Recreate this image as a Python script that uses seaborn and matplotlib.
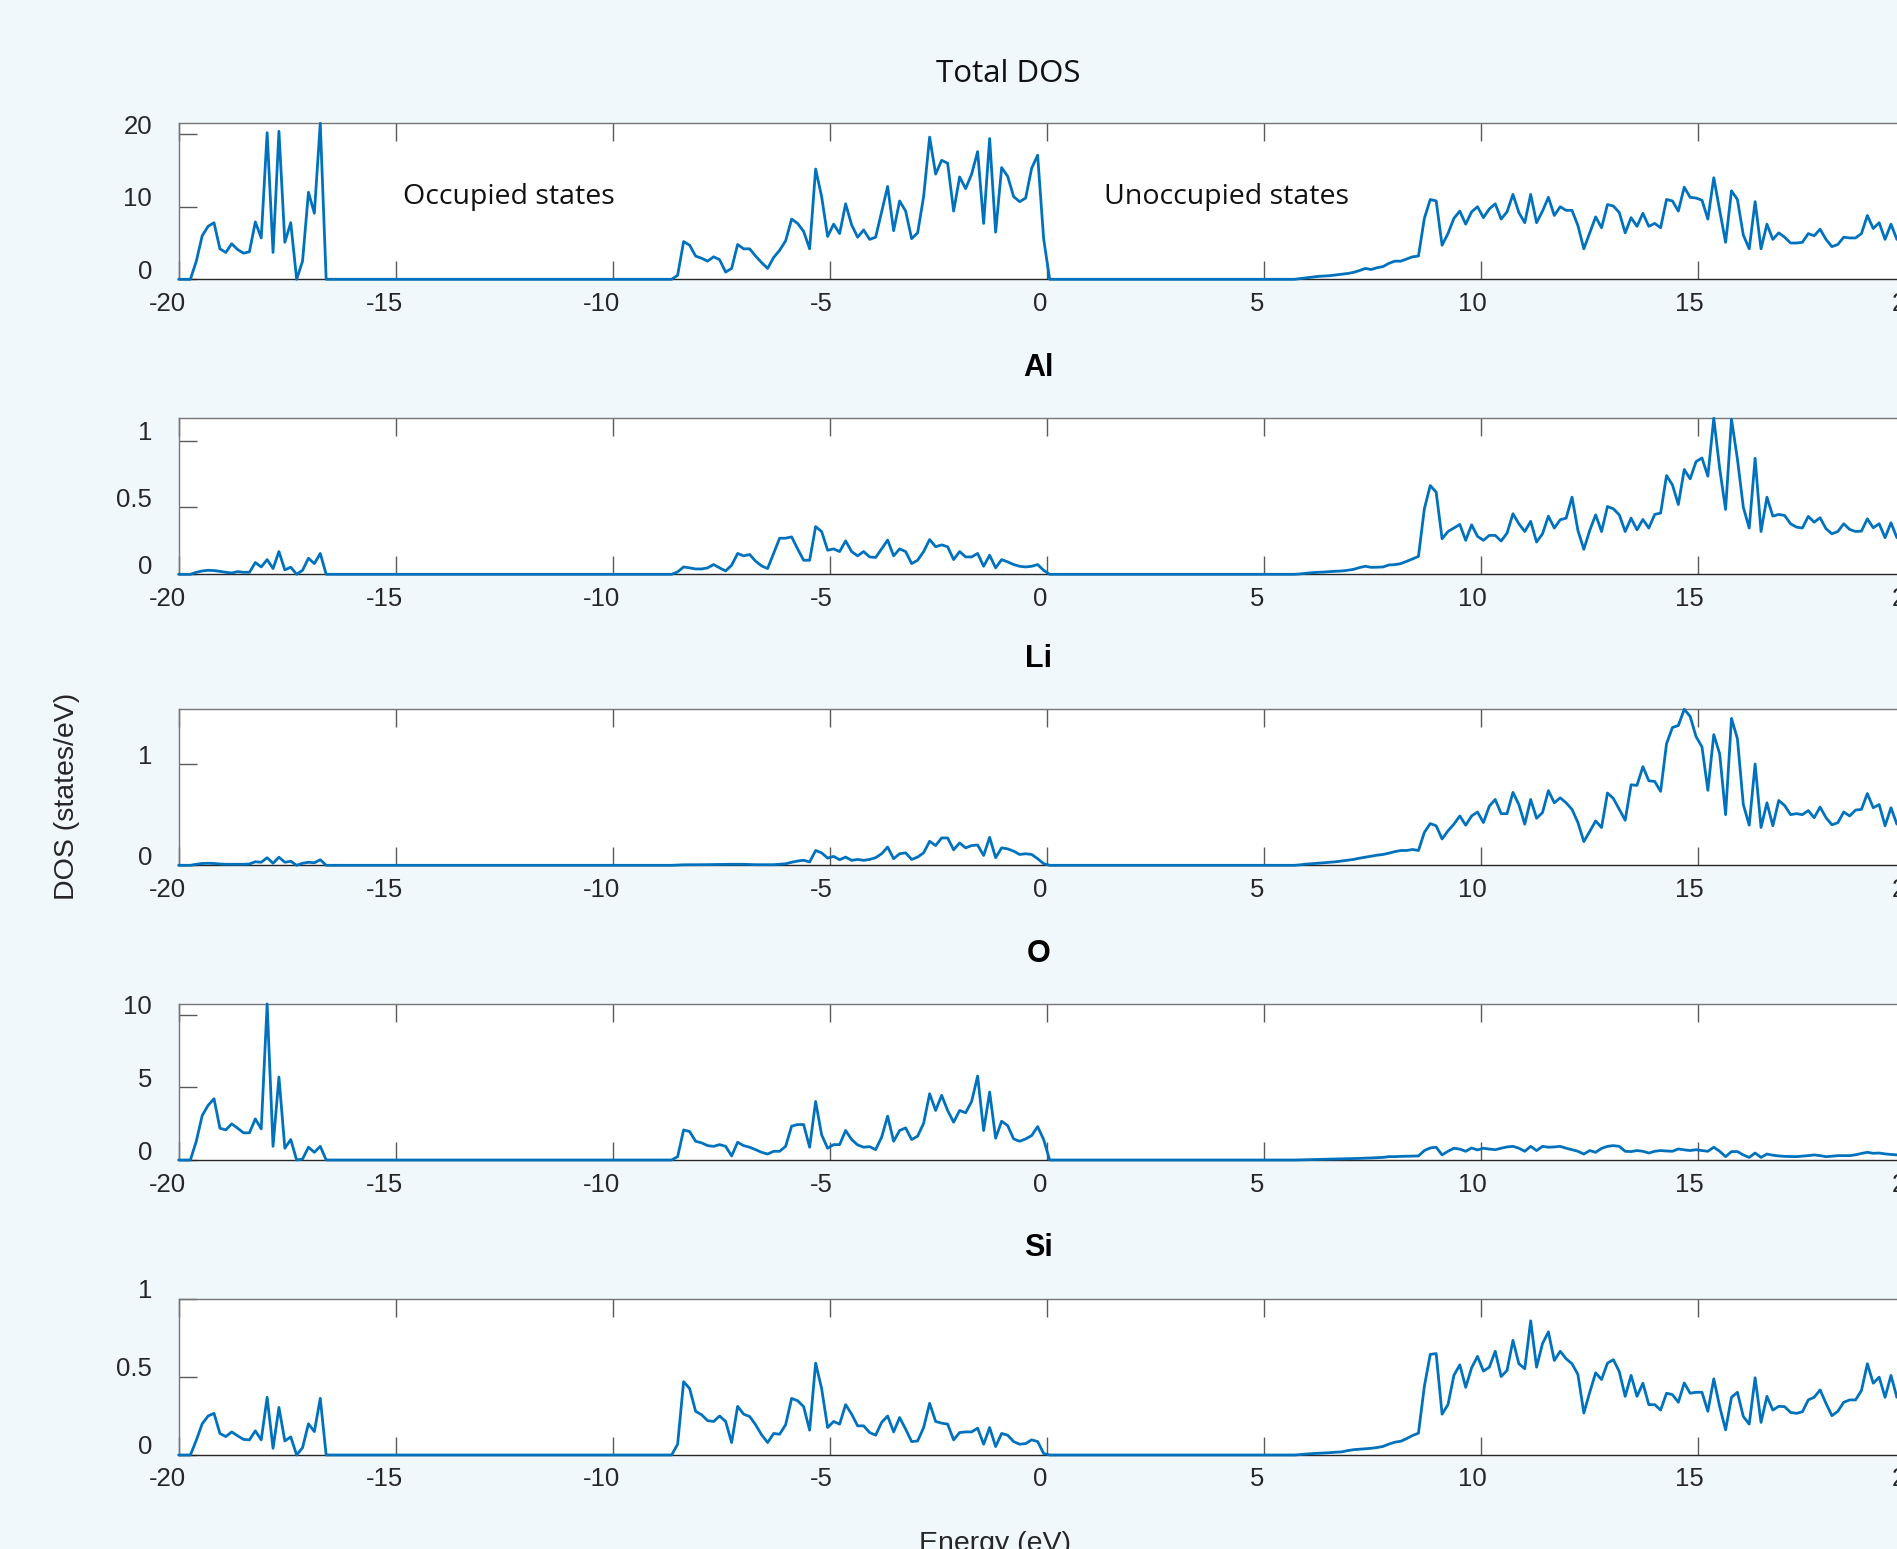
import numpy as np
import pandas as pd
import seaborn as sns
import matplotlib.pyplot as plt
from matplotlib import transforms

# ---- values (DOS in states/eV) ----
# every series is sampled in three energy windows; between them the DOS is zero
lo_window = (-20.0, -16.6)   # lower valence band
vb_window = (-8.64, 0.07)    # upper valence band
cb_window = (5.71, 20.0)     # conduction band

total_lo = [0, 0, 0, 2.5, 6.0, 7.3, 7.8, 4.2, 3.7, 4.9, 4.1, 3.6, 3.8, 7.9, 5.7, 20.2,
            3.7, 20.4, 5.1, 7.8, 0, 2.5, 12.0, 9.1, 21.5, 0]
total_vb = [0, 0.55, 5.2, 4.7, 3.2, 2.9, 2.5, 3.1, 2.7, 1.0,
            1.5, 4.8, 4.2, 4.2, 3.2, 2.3, 1.5, 3.0, 4.0, 5.3,
            8.3, 7.7, 6.6, 4.2, 15.2, 11.4, 5.9, 7.6, 6.3, 10.4,
            7.5, 5.8, 6.8, 5.5, 5.8, 9.3, 12.8, 6.7, 10.8, 9.4,
            5.6, 6.4, 11.4, 19.6, 14.5, 16.4, 16.0, 9.4, 14.1, 12.5,
            14.5, 17.6, 7.7, 19.4, 6.5, 15.4, 14.2, 11.4, 10.7, 11.2,
            15.3, 17.1, 5.6, 0]
total_cb = [0, 0.1, 0.2, 0.3, 0.4, 0.45, 0.5, 0.6, 0.7, 0.8,
            0.95, 1.2, 1.5, 1.35, 1.6, 1.75, 2.2, 2.5, 2.5, 2.8,
            3.1, 3.2, 8.4, 11.0, 10.8, 4.7, 6.3, 8.4, 9.4, 7.6,
            9.3, 10.0, 8.5, 9.7, 10.4, 8.3, 9.3, 11.7, 9.2, 7.8,
            11.7, 7.8, 9.4, 11.3, 8.8, 10.0, 9.5, 9.5, 7.4, 4.2,
            6.4, 8.6, 7.1, 10.3, 10.1, 9.2, 6.4, 8.5, 7.3, 9.1,
            7.3, 7.7, 7.1, 11.0, 10.8, 9.4, 12.7, 11.3, 11.2, 10.9,
            8.3, 14.0, 9.5, 5.1, 12.2, 11.0, 6.1, 4.2, 10.7, 4.2,
            7.6, 5.5, 6.4, 5.8, 5.0, 5.0, 5.1, 6.3, 6.0, 6.9,
            5.5, 4.5, 4.8, 5.8, 5.7, 5.7, 6.3, 8.8, 7.0, 7.8,
            5.5, 7.6, 5.5, 6.2, 5.8, 6.5]

al_lo = [0, 0, 0, 0.015, 0.025, 0.03, 0.028, 0.022, 0.015, 0.01, 0.02, 0.015, 0.015,
         0.088, 0.055, 0.11, 0.043, 0.17, 0.033, 0.053, 0, 0.03, 0.12, 0.08, 0.156, 0]
al_vb = [0, 0.018, 0.055, 0.048, 0.04, 0.04, 0.048, 0.073, 0.048, 0.025,
         0.068, 0.156, 0.138, 0.148, 0.098, 0.063, 0.043, 0.156, 0.27, 0.27,
         0.28, 0.19, 0.105, 0.105, 0.357, 0.32, 0.18, 0.19, 0.17, 0.25,
         0.17, 0.138, 0.17, 0.13, 0.126, 0.19, 0.256, 0.138, 0.19, 0.17,
         0.08, 0.105, 0.17, 0.26, 0.206, 0.22, 0.206, 0.11, 0.17, 0.13,
         0.13, 0.156, 0.06, 0.143, 0.048, 0.11, 0.093, 0.073, 0.06, 0.055,
         0.06, 0.073, 0.03, 0]
al_cb = [0, 0.003, 0.008, 0.012, 0.015, 0.017, 0.02, 0.023, 0.025, 0.03,
         0.037, 0.05, 0.06, 0.052, 0.053, 0.055, 0.07, 0.072, 0.08, 0.097,
         0.115, 0.134, 0.49, 0.664, 0.614, 0.266, 0.32, 0.346, 0.373, 0.254,
         0.37, 0.284, 0.254, 0.291, 0.291, 0.249, 0.308, 0.453, 0.378, 0.32,
         0.396, 0.241, 0.303, 0.435, 0.346, 0.408, 0.42, 0.577, 0.328, 0.187,
         0.328, 0.445, 0.32, 0.507, 0.49, 0.445, 0.32, 0.42, 0.333, 0.41,
         0.346, 0.448, 0.458, 0.739, 0.669, 0.522, 0.784, 0.714, 0.843, 0.87,
         0.734, 1.167, 0.79, 0.485, 1.16, 0.863, 0.502, 0.346, 0.868, 0.32,
         0.577, 0.435, 0.448, 0.44, 0.378, 0.353, 0.346, 0.433, 0.39, 0.423,
         0.341, 0.303, 0.32, 0.378, 0.336, 0.32, 0.323, 0.415, 0.348, 0.378,
         0.274, 0.386, 0.274, 0.35, 0.3, 0.33]

li_lo = [0, 0, 0, 0.01, 0.018, 0.02, 0.018, 0.013, 0.01, 0.01, 0.01, 0.01, 0.013,
         0.035, 0.03, 0.075, 0.02, 0.08, 0.03, 0.04, 0, 0.02, 0.03, 0.025, 0.055, 0]
li_vb = [0, 0.003, 0.005, 0.005, 0.006, 0.006, 0.007, 0.008, 0.008, 0.009,
         0.01, 0.01, 0.01, 0.008, 0.006, 0.006, 0.005, 0.006, 0.01, 0.015,
         0.03, 0.042, 0.05, 0.033, 0.146, 0.123, 0.071, 0.088, 0.055, 0.081,
         0.049, 0.058, 0.049, 0.058, 0.075, 0.114, 0.18, 0.065, 0.114, 0.123,
         0.058, 0.081, 0.123, 0.237, 0.195, 0.27, 0.27, 0.153, 0.221, 0.172,
         0.195, 0.2, 0.097, 0.276, 0.075, 0.172, 0.162, 0.14, 0.107, 0.114,
         0.107, 0.065, 0.016, 0]
li_cb = [0, 0.005, 0.012, 0.016, 0.02, 0.025, 0.03, 0.035, 0.042, 0.05,
         0.058, 0.07, 0.08, 0.09, 0.1, 0.107, 0.12, 0.135, 0.146, 0.146,
         0.156, 0.146, 0.325, 0.412, 0.39, 0.26, 0.34, 0.406, 0.487, 0.396,
         0.487, 0.526, 0.422, 0.584, 0.65, 0.51, 0.51, 0.72, 0.6, 0.406,
         0.65, 0.464, 0.52, 0.737, 0.617, 0.666, 0.617, 0.552, 0.422, 0.234,
         0.334, 0.438, 0.373, 0.714, 0.66, 0.552, 0.445, 0.795, 0.789, 0.974,
         0.834, 0.828, 0.73, 1.2, 1.36, 1.38, 1.54, 1.47, 1.27, 1.17,
         0.74, 1.29, 1.1, 0.5, 1.45, 1.25, 0.6, 0.396, 1.0, 0.373,
         0.617, 0.39, 0.64, 0.59, 0.5, 0.51, 0.5, 0.54, 0.47, 0.575,
         0.47, 0.4, 0.42, 0.526, 0.487, 0.545, 0.552, 0.708, 0.568, 0.6,
         0.39, 0.568, 0.406, 0.5, 0.45, 0.5]

o_lo = [0, 0, 0, 1.3, 3.06, 3.76, 4.22, 2.19, 2.07, 2.49, 2.19, 1.87, 1.87,
        2.83, 2.14, 10.74, 0.94, 5.71, 0.81, 1.41, 0, 0.07, 0.88, 0.53, 0.94, 0]
o_vb = [0, 0.23, 2.07, 1.96, 1.29, 1.18, 0.99, 0.94, 1.06, 0.94,
        0.28, 1.22, 0.99, 0.88, 0.71, 0.53, 0.41, 0.6, 0.6, 0.94,
        2.33, 2.44, 2.44, 0.88, 4.03, 1.73, 0.81, 1.06, 1.06, 2.03,
        1.41, 1.04, 0.88, 0.92, 0.71, 1.57, 3.02, 1.29, 2.03, 2.21,
        1.41, 1.64, 2.53, 4.56, 3.41, 4.45, 3.41, 2.6, 3.41, 3.25,
        4.03, 5.78, 2.03, 4.68, 1.5, 2.67, 2.37, 1.45, 1.29, 1.45,
        1.68, 2.3, 1.41, 0]
o_cb = [0, 0.01, 0.02, 0.03, 0.04, 0.05, 0.06, 0.07, 0.08, 0.09,
        0.1, 0.11, 0.13, 0.14, 0.16, 0.18, 0.23, 0.23, 0.25, 0.26,
        0.27, 0.28, 0.65, 0.83, 0.88, 0.35, 0.6, 0.81, 0.75, 0.6,
        0.83, 0.69, 0.81, 0.75, 0.71, 0.81, 0.9, 0.94, 0.81, 0.6,
        0.94, 0.65, 0.94, 0.88, 0.9, 0.94, 0.81, 0.71, 0.6, 0.41,
        0.65, 0.53, 0.8, 0.94, 0.99, 0.94, 0.6, 0.58, 0.65, 0.6,
        0.48, 0.6, 0.65, 0.62, 0.6, 0.76, 0.7, 0.65, 0.71, 0.65,
        0.6, 0.88, 0.6, 0.23, 0.58, 0.58, 0.35, 0.18, 0.48, 0.18,
        0.41, 0.33, 0.28, 0.25, 0.24, 0.23, 0.27, 0.3, 0.35, 0.3,
        0.23, 0.26, 0.3, 0.3, 0.3, 0.36, 0.45, 0.53, 0.46, 0.48,
        0.42, 0.38, 0.35, 0.4, 0.36, 0.38]

si_lo = [0, 0, 0, 0.095, 0.2, 0.25, 0.267, 0.138, 0.118, 0.148, 0.123, 0.1, 0.097,
         0.155, 0.097, 0.37, 0.043, 0.305, 0.09, 0.116, 0, 0.047, 0.2, 0.15, 0.363, 0]
si_vb = [0, 0.069, 0.47, 0.426, 0.28, 0.258, 0.22, 0.215, 0.25, 0.215,
         0.08, 0.312, 0.262, 0.247, 0.194, 0.129, 0.08, 0.138, 0.133, 0.194,
         0.363, 0.348, 0.31, 0.159, 0.589, 0.426, 0.176, 0.215, 0.198, 0.323,
         0.262, 0.187, 0.187, 0.144, 0.127, 0.209, 0.25, 0.148, 0.24, 0.166,
         0.086, 0.09, 0.176, 0.331, 0.215, 0.204, 0.198, 0.097, 0.144, 0.148,
         0.148, 0.172, 0.069, 0.176, 0.054, 0.138, 0.127, 0.086, 0.069, 0.073,
         0.097, 0.086, 0.01, 0]
si_cb = [0, 0.003, 0.006, 0.009, 0.011, 0.013, 0.015, 0.018, 0.02, 0.028,
         0.034, 0.037, 0.04, 0.043, 0.048, 0.055, 0.07, 0.082, 0.088, 0.105,
         0.125, 0.14, 0.44, 0.645, 0.65, 0.262, 0.323, 0.51, 0.578, 0.434,
         0.559, 0.632, 0.538, 0.563, 0.665, 0.503, 0.542, 0.735, 0.585, 0.553,
         0.86, 0.563, 0.714, 0.789, 0.606, 0.665, 0.617, 0.585, 0.516, 0.269,
         0.402, 0.527, 0.484, 0.589, 0.611, 0.535, 0.376, 0.51, 0.376, 0.46,
         0.323, 0.323, 0.288, 0.396, 0.387, 0.338, 0.462, 0.396, 0.402, 0.402,
         0.28, 0.488, 0.31, 0.161, 0.37, 0.402, 0.247, 0.198, 0.495, 0.209,
         0.376, 0.288, 0.312, 0.31, 0.273, 0.267, 0.277, 0.353, 0.37, 0.417,
         0.331, 0.252, 0.28, 0.338, 0.353, 0.353, 0.413, 0.585, 0.46, 0.499,
         0.37, 0.51, 0.37, 0.45, 0.4, 0.42]

panel_titles = ["Total DOS", "Al", "Li", "O", "Si"]
x_ticks = [-20, -15, -10, -5, 0, 5, 10, 15, 20]
x_tick_labels = ["-20", "-15", "-10", "-5", "0", "5", "10", "15", "20"]
total_yticks, total_ylabels = [0, 10, 20], ["0", "10", "20"]
al_yticks, al_ylabels = [0, 0.5, 1], ["0", "0.5", "1"]
li_yticks, li_ylabels = [0, 1], ["0", "1"]
o_yticks, o_ylabels = [0, 5, 10], ["0", "5", "10"]
si_yticks, si_ylabels = [0, 0.5, 1], ["0", "0.5", "1"]
si_ylim = 1.0

# ---- figure ----
sns.set_theme(style="white")
plt.rcParams["font.family"] = ["Liberation Sans", "DejaVu Sans"]

W, H = 1897, 1549
BG = "#f1f8fc"
LINE = "#0072bd"
fig = plt.figure(figsize=(W / 100, H / 100), dpi=100, facecolor=BG)

panels = [
    (total_lo, total_vb, total_cb, total_yticks, total_ylabels, None),
    (al_lo, al_vb, al_cb, al_yticks, al_ylabels, None),
    (li_lo, li_vb, li_cb, li_yticks, li_ylabels, None),
    (o_lo, o_vb, o_cb, o_yticks, o_ylabels, None),
    (si_lo, si_vb, si_cb, si_yticks, si_ylabels, si_ylim),
]

left_px, width_px, height_px = 178.6, 1736.0, 156.0
tops_px = [123.3, 418.3, 709.3, 1004.0, 1299.0]

yshift = transforms.ScaledTranslation(0, 10 / 100, fig.dpi_scale_trans)

for (lo, vb, cb, yt, yl, ytop), top in zip(panels, tops_px):
    ax = fig.add_axes([left_px / W, 1 - (top + height_px) / H, width_px / W, height_px / H])
    ax.set_facecolor("white")
    df = pd.DataFrame({
        "energy": np.concatenate([np.linspace(*lo_window, len(lo)),
                                  np.linspace(*vb_window, len(vb)),
                                  np.linspace(*cb_window, len(cb))]),
        "dos": np.concatenate([lo, vb, cb]),
    })
    sns.lineplot(data=df, x="energy", y="dos", ax=ax, color=LINE, linewidth=2.0,
                 errorbar=None, clip_on=False, zorder=5)
    ax.set_xlim(-20, 20)
    ax.set_ylim(0, ytop if ytop is not None else df["dos"].max())
    ax.set_xlabel("")
    ax.set_ylabel("")
    ax.set_xticks(x_ticks, labels=x_tick_labels)
    ax.set_yticks(yt, labels=yl)
    ax.tick_params(axis="x", direction="in", top=True, bottom=True, length=13, width=1.0,
                   color="#5a5a5a", labelsize=18.5, labelcolor="#262626", pad=9)
    ax.tick_params(axis="y", direction="in", left=True, right=False, length=13, width=1.0,
                   color="#5a5a5a", labelsize=18.5, labelcolor="#262626", pad=19)
    # labels sit a little left of their ticks, more so for the wider ones
    for tk, lab in zip(ax.xaxis.get_major_ticks(), x_tick_labels):
        dx = -(6 + 2.5 * (len(lab) - 1)) / 100
        tk.label1.set_transform(tk.label1.get_transform()
                                + transforms.ScaledTranslation(dx, 0, fig.dpi_scale_trans))
    for tk in ax.yaxis.get_major_ticks():
        tk.label1.set_transform(tk.label1.get_transform() + yshift)
    for side in ["top", "left"]:
        ax.spines[side].set_color("#767676")
        ax.spines[side].set_linewidth(1.0)
    ax.spines["bottom"].set_color("#262626")
    ax.spines["bottom"].set_linewidth(1.0)
    ax.spines["right"].set_visible(False)
    ax.grid(False)

# titles and annotations
fig.text(1008.5 / W, 1 - 82 / H, panel_titles[0], ha="center", va="baseline",
         fontsize=22.5, family=["Open Sans", "DejaVu Sans"], color="#111111")
fig.text(508.5 / W, 1 - 204 / H, "Occupied states", ha="center", va="baseline",
         fontsize=20.5, family=["Open Sans", "DejaVu Sans"], color="#111111")
fig.text(1227 / W, 1 - 204 / H, "Unoccupied states", ha="center", va="baseline",
         fontsize=20.5, family=["Open Sans", "DejaVu Sans"], color="#111111")
for name, top in zip(panel_titles[1:], tops_px[1:]):
    fig.text(1038.5 / W, 1 - (top - 42.5) / H, name, ha="center", va="baseline",
             fontsize=22, fontweight="bold", color="#000000")

fig.text(67.5 / W, 1 - 796 / H, "DOS (states/eV)", rotation=90, ha="center", va="center",
         fontsize=20.5, color="#262626")
fig.text(995 / W, 1 - 1551 / H, "Energy (eV)", ha="center", va="baseline",
         fontsize=20.5, color="#262626")

fig.savefig("out.png", dpi=100, facecolor=BG)
